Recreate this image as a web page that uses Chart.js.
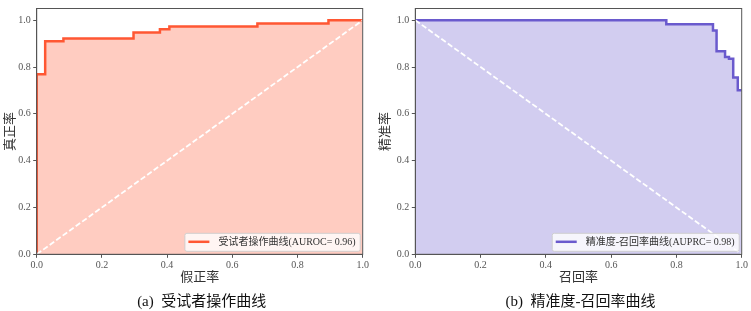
<!DOCTYPE html>
<html>
<head>
<meta charset="utf-8">
<script src="https://cdn.jsdelivr.net/npm/chart.js@4"></script>
<style>
  html, body { margin: 0; padding: 0; background: #fff; }
  #wrap { position: relative; width: 751px; height: 311px; }
  .box { position: absolute; top: 0; height: 311px; }
  #box-roc { left: 0; width: 375px; }
  #box-pr { left: 375px; width: 376px; }
</style>
</head>
<body>
<div id="wrap">
  <div class="box" id="box-roc"><canvas id="roc-chart" width="375" height="311"></canvas></div>
  <div class="box" id="box-pr"><canvas id="pr-chart" width="376" height="311"></canvas></div>
</div>
<script>
// ROC curve corners (false positive rate / true positive rate)
const rocFpr = [0, 0, 0.026, 0.026, 0.082, 0.082, 0.297, 0.297, 0.378, 0.378, 0.407, 0.407, 0.677, 0.677, 0.895, 0.895, 1.0];
const rocTpr = [0, 0.769, 0.769, 0.910, 0.910, 0.922, 0.922, 0.948, 0.948, 0.961, 0.961, 0.973, 0.973, 0.986, 0.986, 1.0, 1.0];

// PR curve corners (recall / precision)
const prRecall = [0, 0.769, 0.769, 0.912, 0.912, 0.923, 0.923, 0.949, 0.949, 0.961, 0.961, 0.974, 0.974, 0.988, 0.988, 1.0];
const prPrecision = [1.0, 1.0, 0.983, 0.983, 0.956, 0.956, 0.867, 0.867, 0.843, 0.843, 0.835, 0.835, 0.755, 0.755, 0.701, 0.701];

// reference diagonals
const rocDiagX = [0, 1];
const rocDiagY = [0, 1];
const prDiagX = [0, 1];
const prDiagY = [1, 0];

const axisTicks = [0, 0.2, 0.4, 0.6, 0.8, 1.0];

const rocLabel = "受试者操作曲线(AUROC= 0.96)";
const prLabel = "精准度-召回率曲线(AUPRC= 0.98)";

const FONT = '"Liberation Serif", "Noto Sans CJK SC", serif';
const AXIS_COLOR = "#555";

Chart.defaults.font.family = FONT;
Chart.defaults.color = "#444";

const toPoints = (xs, ys) => xs.map((x, i) => ({ x: x, y: ys[i] }));

// frame round the plot area (matplotlib-style box)
const frameBox = {
  id: "frameBox",
  afterDraw(chart) {
    const { ctx, chartArea } = chart;
    ctx.save();
    ctx.strokeStyle = AXIS_COLOR;
    ctx.lineWidth = 1;
    ctx.strokeRect(chartArea.left, chartArea.top, chartArea.right - chartArea.left, chartArea.bottom - chartArea.top);
    ctx.restore();
  }
};

// legend drawn inside the plot, lower right
const cornerLegend = {
  id: "cornerLegend",
  afterDatasetsDraw(chart) {
    const ds = chart.data.datasets[0];
    const { ctx, chartArea } = chart;
    ctx.save();
    ctx.font = '10px ' + FONT;
    const textW = ctx.measureText(ds.label).width;
    const w = textW + 38, h = 18;
    const x = chartArea.right - 3 - w;
    const y = chartArea.bottom - 3.5 - h;
    ctx.fillStyle = "rgba(255,255,255,0.8)";
    ctx.strokeStyle = "rgba(204,204,204,0.9)";
    ctx.lineWidth = 1;
    ctx.beginPath();
    ctx.roundRect(x + 0.5, y + 0.5, w, h, 2);
    ctx.fill();
    ctx.stroke();
    ctx.strokeStyle = ds.borderColor;
    ctx.lineWidth = 2.5;
    ctx.beginPath();
    ctx.moveTo(x + 4, y + h / 2);
    ctx.lineTo(x + 25, y + h / 2);
    ctx.stroke();
    ctx.fillStyle = "#333";
    ctx.textBaseline = "middle";
    ctx.fillText(ds.label, x + 34, y + h / 2 + 0.5);
    ctx.restore();
  }
};

// sub-figure caption under the axis
const caption = {
  id: "caption",
  afterDraw(chart, args, opts) {
    const { ctx, chartArea } = chart;
    ctx.save();
    ctx.font = '15px ' + FONT;
    ctx.fillStyle = "#111";
    ctx.textAlign = "center";
    ctx.textBaseline = "middle";
    ctx.fillText(opts.text, (chartArea.left + chartArea.right) / 2 + 2, chart.height - 8.5);
    ctx.restore();
  }
};

function makeChart(id, opt) {
  return new Chart(document.getElementById(id), {
    type: "line",
    data: {
      datasets: [
        {
          label: opt.label,
          data: toPoints(opt.xs, opt.ys),
          borderColor: opt.color,
          backgroundColor: opt.fill,
          borderWidth: 2.5,
          pointRadius: 0,
          fill: "origin",
          tension: 0,
          order: 1
        },
        {
          label: "diag",
          data: toPoints(opt.diagX, opt.diagY),
          borderColor: "#ffffff",
          borderWidth: 1.8,
          borderDash: [5.5, 2.5],
          pointRadius: 0,
          fill: false,
          order: 0
        }
      ]
    },
    options: {
      responsive: false,
      animation: false,
      layout: { padding: { top: 5, right: opt.padRight, bottom: 0, left: 0 } },
      plugins: {
        legend: { display: false },
        tooltip: { enabled: false },
        caption: { text: opt.caption }
      },
      scales: {
        x: {
          type: "linear",
          min: 0,
          max: 1,
          afterBuildTicks: s => { s.ticks = axisTicks.map(v => ({ value: v })); },
          afterFit: s => { s.height = 56.7; },
          grid: { drawOnChartArea: false, drawTicks: true, tickLength: 3.5, color: AXIS_COLOR },
          border: { display: true, color: AXIS_COLOR, width: 1 },
          ticks: { font: { size: 10 }, color: "#555", padding: 1.5, maxRotation: 0, callback: v => v.toFixed(1) },
          title: { display: true, text: opt.xTitle, font: { size: 13 }, color: "#333", padding: { top: 0, bottom: 26 } }
        },
        y: {
          type: "linear",
          min: 0,
          max: 1.05,
          afterBuildTicks: s => { s.ticks = axisTicks.map(v => ({ value: v })); },
          afterFit: s => { s.width = opt.yWidth; },
          grid: { drawOnChartArea: false, drawTicks: true, tickLength: 3.5, color: AXIS_COLOR },
          border: { display: true, color: AXIS_COLOR, width: 1 },
          ticks: { font: { size: 10 }, color: "#555", padding: 2.5, callback: v => v.toFixed(1) },
          title: { display: true, text: opt.yTitle, font: { size: 13 }, color: "#333", padding: { top: 3, bottom: 0 } }
        }
      }
    },
    plugins: [cornerLegend, frameBox, caption]
  });
}

makeChart("roc-chart", {
  label: rocLabel,
  xs: rocFpr, ys: rocTpr,
  diagX: rocDiagX, diagY: rocDiagY,
  color: "#ff5733",
  fill: "rgba(255,87,51,0.3)",
  xTitle: "假正率",
  yTitle: "真正率",
  caption: "(a)  受试者操作曲线",
  yWidth: 36.7,
  padRight: 12.3
});

makeChart("pr-chart", {
  label: prLabel,
  xs: prRecall, ys: prPrecision,
  diagX: prDiagX, diagY: prDiagY,
  color: "#6a5acd",
  fill: "rgba(106,90,205,0.3)",
  xTitle: "召回率",
  yTitle: "精准率",
  caption: "(b)  精准度-召回率曲线",
  yWidth: 40.3,
  padRight: 9.3
});
</script>
</body>
</html>
